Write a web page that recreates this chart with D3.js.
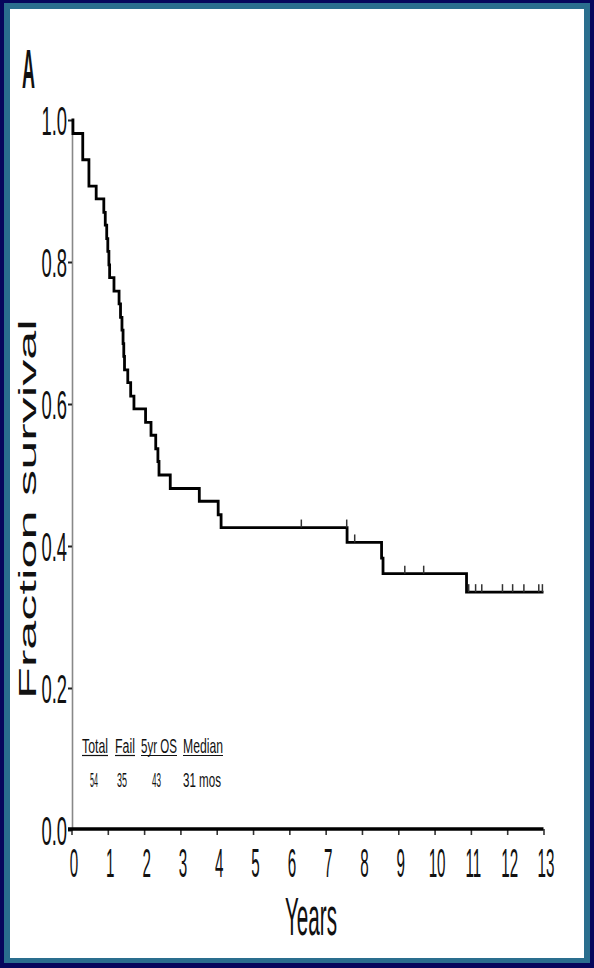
<!DOCTYPE html>
<html><head><meta charset="utf-8">
<script src="https://cdn.jsdelivr.net/npm/d3@7"></script>
<style>body{margin:0;background:#06065c}svg{display:block}</style></head>
<body><script>
// ---- data ----
const xTicks = [0,1,2,3,4,5,6,7,8,9,10,11,12,13];
const yTicks = [0.0,0.2,0.4,0.6,0.8,1.0];
const timeYears = [0,0.04,0.31,0.48,0.68,0.89,0.93,0.97,1.00,1.03,1.05,1.17,1.31,1.35,1.39,1.42,1.44,1.46,1.55,1.63,1.72,2.04,2.19,2.32,2.38,2.41,2.72,3.52,4.04,4.12,7.59,8.54,8.58,10.88];
const survival  = [1.0,0.981,0.944,0.907,0.889,0.870,0.852,0.833,0.815,0.796,0.778,0.759,0.741,0.722,0.704,0.685,0.667,0.648,0.630,0.611,0.593,0.574,0.556,0.537,0.519,0.500,0.481,0.463,0.444,0.426,0.405,0.383,0.361,0.335];
const endTime = 13.0;
const censorTimes = [6.33,7.58,7.80,9.18,9.70,10.94,11.13,11.30,11.87,12.15,12.46,12.87,12.97];
const legendHeaders = ["Total","Fail","5yr OS","Median"];
const legendValues  = ["54","35","43","31 mos"];

// ---- drawing ----
const W=594,H=968;
const svg=d3.select("body").append("svg").attr("width",W).attr("height",H);
svg.append("rect").attr("width",W).attr("height",H).attr("fill","#06065c");
svg.append("rect").attr("x",4).attr("y",3).attr("width",586).attr("height",960).attr("fill","#2a6e8e");
svg.append("rect").attr("x",10).attr("y",9).attr("width",574).attr("height",949).attr("fill","#fff");

const x=d3.scaleLinear().domain([0,13]).range([71.5,543.5]);
const y=d3.scaleLinear().domain([0,1]).range([830,120]);
const FONT="'Liberation Sans', Arial, sans-serif";

// helper: text squeezed to a target width via scale transform
function fitText(g, str, x0, yb, size, width, opts={}){
  const t=g.append("text").attr("font-family",opts.family||FONT).attr("font-size",size)
    .attr("font-weight",opts.weight||"normal").attr("fill","#111").text(str);
  const nat=t.node().getComputedTextLength();
  const s=width/nat;
  const rot=opts.rotate?` rotate(${opts.rotate})`:"";
  if(opts.anchor==="middle"){t.attr("text-anchor","middle");}
  t.attr("transform",`translate(${x0},${yb})${rot} scale(${s},1)`);
  return t;
}

// y axis
const ya=svg.append("g").attr("transform","translate(72,0)")
  .call(d3.axisLeft(y).tickValues(yTicks).tickFormat(d3.format(".1f")).tickSize(4).tickSizeOuter(0));
ya.select(".domain").attr("stroke","#888").attr("stroke-width",1.6);
ya.selectAll(".tick line").attr("stroke","#222").attr("stroke-width",2);
const ysx=0.46;
ya.selectAll(".tick text").attr("font-family",FONT).attr("font-size",40).attr("fill","#111")
  .attr("transform",`scale(${ysx},1)`).attr("x",-5/ysx).attr("dy","0.36em");

// x axis
const xa=svg.append("g").attr("transform","translate(0,829)")
  .call(d3.axisBottom(x).tickValues(xTicks).tickFormat(d3.format("d")).tickSize(6).tickSizeOuter(0));
xa.select(".domain").remove();
xa.selectAll(".tick line").attr("stroke","#333").attr("stroke-width",1.6);
const xsx=0.37;
xa.selectAll(".tick text").attr("font-family",FONT).attr("font-size",41).attr("fill","#111")
  .attr("transform",`scale(${xsx},1)`).attr("x",2/xsx).attr("y",48).attr("dy",0);
svg.append("line").attr("x1",68).attr("x2",x(13)).attr("y1",829).attr("y2",829)
  .attr("stroke","#000").attr("stroke-width",3.5);

// KM curve
const pts=timeYears.map((t,i)=>[t,survival[i]]);
pts.push([endTime,survival[survival.length-1]]);
const line=d3.line().x(d=>x(d[0])).y(d=>y(d[1])).curve(d3.curveStepAfter);
svg.append("path").attr("d",line(pts)).attr("fill","none").attr("stroke","#000").attr("stroke-width",2.8);

// censor marks
function survAt(t){let s=1;for(let i=0;i<timeYears.length;i++){if(timeYears[i]<=t)s=survival[i];}return s;}
svg.append("g").selectAll("line").data(censorTimes).join("line")
  .attr("x1",d=>x(d)).attr("x2",d=>x(d))
  .attr("y1",d=>y(survAt(d))-8).attr("y2",d=>y(survAt(d)))
  .attr("stroke","#333").attr("stroke-width",1.5);

// axis titles
const tg=svg.append("g");
fitText(tg,"Fraction survival",36,509,23,380,{anchor:"middle",rotate:-90});
fitText(tg,"Years",311,935,54,52,{anchor:"middle"});
fitText(tg,"A",22,88,56,13,{weight:"bold"});

// legend table
const hx=[82,115,141,183], hw=[26,20,36,40];
const vx=[90,117,152,183], vw=[8,10,9,38];
const lg=svg.append("g");
legendHeaders.forEach((h,i)=>{
  fitText(lg,h,hx[i],753,20,hw[i]);
  lg.append("line").attr("x1",hx[i]).attr("x2",hx[i]+hw[i]).attr("y1",755.5).attr("y2",755.5)
    .attr("stroke","#111").attr("stroke-width",1.2);
});
legendValues.forEach((v,i)=>{
  fitText(lg,v,vx[i],787,21,vw[i]);
});
</script></body></html>
